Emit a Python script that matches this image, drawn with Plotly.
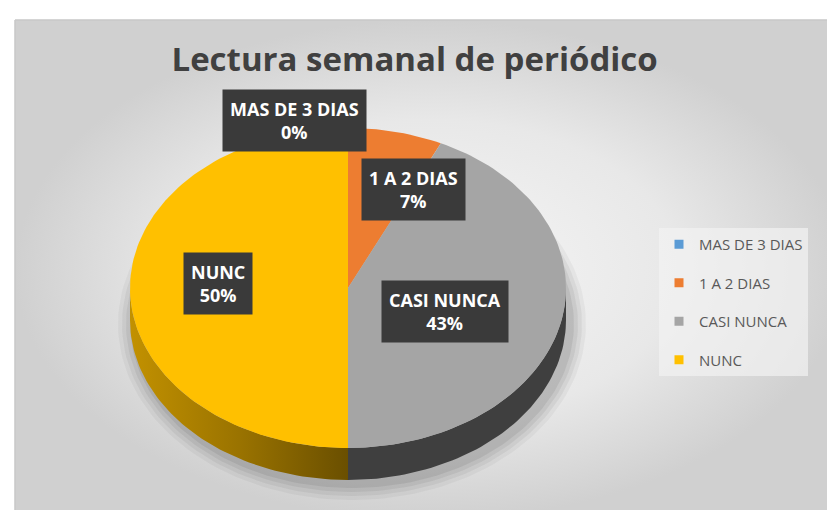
import numpy as np
import plotly.graph_objects as go

# ---- data ----
categories = ["MAS DE 3 DIAS", "1 A 2 DIAS", "CASI NUNCA", "NUNC"]
values = [0, 7, 43, 50]
colors = ["#5B9BD5", "#ED7D31", "#A5A5A5", "#FFC000"]
title_text = "Lectura semanal de periódico"

# ---- geometry (pixel-like data space) ----
W, H = 835, 510
CX, CY, RX, RY, DEPTH = 340, 280, 218, 160, 32
side_styles = {
    "MAS DE 3 DIAS": dict(fillcolor="#3E6E9C"),
    "1 A 2 DIAS": dict(fillcolor="#A8561F"),
    "CASI NUNCA": dict(fillcolor="#3F3F3F"),
    "NUNC": dict(fillgradient=dict(type="horizontal",
                                   colorscale=[[0, "#C29100"], [0.5, "#9A7300"], [1, "#6A4F00"]])),
}


def arc(t0, t1, dy=0.0, n=120):
    t = np.linspace(t0, t1, max(2, int(n * (t1 - t0) / np.pi) + 2))
    return CX + RX * np.sin(t), CY - RY * np.cos(t) + dy


fig = go.Figure()

# chart area background
fig.add_trace(go.Scatter(
    x=[7, W + 2, W + 2, 7, 7], y=[12, 12, H + 2, H + 2, 12], mode="lines", fill="toself",
    fillgradient=dict(type="radial", colorscale=[[0, "#F6F6F6"], [0.6, "#E8E8E8"], [1, "#D0D0D0"]]),
    line=dict(color="#C8C8C8", width=1.5), hoverinfo="skip", showlegend=False))

# soft shadow below the pie
for k, op in enumerate([0.04, 0.05, 0.06, 0.07]):
    g = 16 - 4 * k
    tt = np.linspace(0, 2 * np.pi, 200)
    fig.add_trace(go.Scatter(
        x=CX + 4 + (RX + g) * np.sin(tt), y=CY + DEPTH + 4 - (RY + g) * np.cos(tt),
        mode="lines", fill="toself", fillcolor=f"rgba(0,0,0,{op})", line=dict(width=0),
        hoverinfo="skip", showlegend=False))

total = float(sum(values))
fracs = np.cumsum([0.0] + [v / total for v in values])
angles = 2 * np.pi * fracs

# side walls (front half only)
for i, cat in enumerate(categories):
    a0, a1 = angles[i], angles[i + 1]
    lo, hi = max(a0, np.pi / 2), min(a1, 3 * np.pi / 2)
    if hi <= lo:
        continue
    xt, yt = arc(lo, hi)
    xb, yb = arc(lo, hi, DEPTH)
    xs = np.concatenate([xt, xb[::-1], xt[:1]])
    ys = np.concatenate([yt, yb[::-1], yt[:1]])
    fig.add_trace(go.Scatter(x=xs, y=ys, mode="lines", fill="toself", line=dict(width=0),
                             hoverinfo="skip", showlegend=False, **side_styles[cat]))

# top faces
for i, cat in enumerate(categories):
    a0, a1 = angles[i], angles[i + 1]
    if a1 <= a0:
        continue
    xa, ya = arc(a0, a1)
    xs = np.concatenate([[CX], xa, [CX]])
    ys = np.concatenate([[CY], ya, [CY]])
    fig.add_trace(go.Scatter(x=xs, y=ys, mode="lines", fill="toself", fillcolor=colors[i],
                             line=dict(width=0), name=cat, hoverinfo="name", showlegend=False))

# legend entries
for i, cat in enumerate(categories):
    fig.add_trace(go.Scatter(x=[None], y=[None], mode="markers", name=cat, legendgroup=cat,
                             marker=dict(symbol="square", size=9, color=colors[i])))

# data labels
label_pos = {
    "MAS DE 3 DIAS": (286, 112),
    "1 A 2 DIAS": (405, 181),
    "NUNC": (210, 275),
    "CASI NUNCA": (437, 303),
}
for i, cat in enumerate(categories):
    lx, ly = label_pos[cat]
    pct = f"{round(100 * values[i] / total)}%"
    fig.add_annotation(x=lx, y=ly, xref="x", yref="y", text=f"<b>{cat}<br>{pct}</b>",
                       showarrow=False, borderpad=7, align="center", bgcolor="#3A3A3A",
                       font=dict(family="Open Sans", size=18, color="#FFFFFF"))

fig.update_layout(
    width=W, height=H, margin=dict(l=0, r=0, t=0, b=0),
    paper_bgcolor="#FFFFFF", plot_bgcolor="#FFFFFF",
    xaxis=dict(range=[0, W], visible=False, fixedrange=True),
    yaxis=dict(range=[H, 0], visible=False, fixedrange=True),
    title=dict(text=f"<b>{title_text}</b>", x=0.487, xanchor="center", y=1 - 51 / H, yanchor="middle",
               font=dict(family="Open Sans", size=33, color="#404040")),
    legend=dict(x=651 / W, y=1 - 220 / H, xanchor="left", yanchor="top",
                bgcolor="rgba(242,242,242,0.7)", font=dict(family="Open Sans", size=15, color="#595959"),
                tracegroupgap=16, itemwidth=30, traceorder="grouped"),
    showlegend=True,
)

fig.write_html("out.html")
